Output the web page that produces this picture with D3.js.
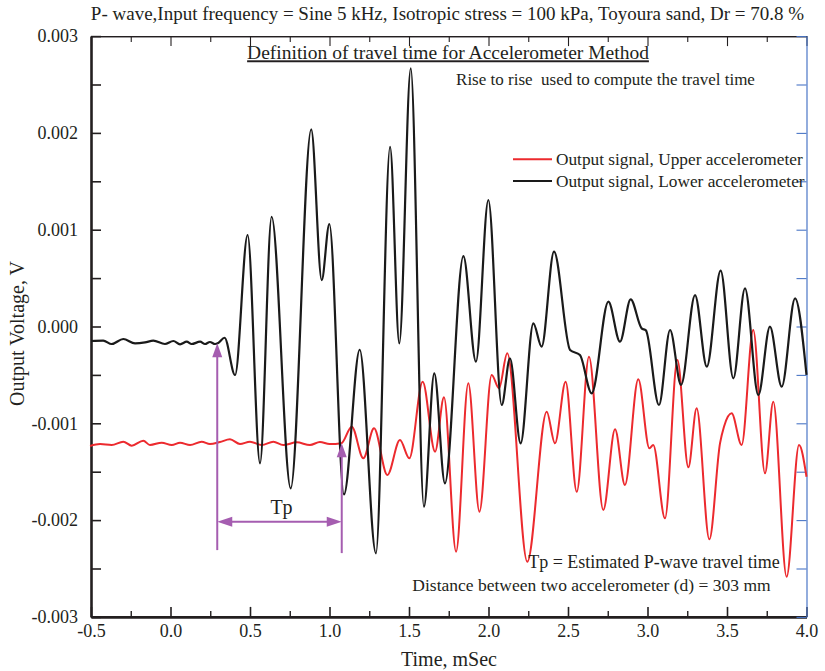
<!DOCTYPE html>
<html>
<head>
<meta charset="utf-8">
<script src="https://cdn.jsdelivr.net/npm/d3@7"></script>
<style>
  body { margin: 0; background: #fff; }
  text { font-family: "Liberation Serif", "Times New Roman", serif; fill: #231f20; }
</style>
</head>
<body>
<div id="chart"></div>
<script>
// axis ticks
const xMajor = [-0.5, 0.0, 0.5, 1.0, 1.5, 2.0, 2.5, 3.0, 3.5, 4.0];
const xMinor = [-0.25, 0.25, 0.75, 1.25, 1.75, 2.25, 2.75, 3.25, 3.75];
const yMajor = [0.003, 0.002, 0.001, 0.000, -0.001, -0.002, -0.003];
const yHalf = [0.0025, 0.0015, 0.0005, -0.0005, -0.0015, -0.0025];

// lower accelerometer (black) : [time mSec, volt V]
const lowerSignal = [
  [-0.500, -0.000150], [-0.423, -0.000146], [-0.370, -0.000181], [-0.297, -0.000129],
  [-0.223, -0.000174], [-0.160, -0.000164], [-0.108, -0.000146], [-0.035, -0.000181],
  [0.018, -0.000150], [0.060, -0.000184], [0.102, -0.000157], [0.133, -0.000181],
  [0.186, -0.000157], [0.217, -0.000181], [0.248, -0.000160], [0.280, -0.000181],
  [0.300, -0.000170], [0.340, -0.000116], [0.406, -0.000501], [0.485, 0.000945],
  [0.563, -0.001413], [0.636, 0.001134], [0.756, -0.001672], [0.885, 0.002037],
  [0.951, 0.000480], [0.999, 0.001059], [1.091, -0.001735], [1.190, -0.000240],
  [1.292, -0.002343], [1.381, 0.001857], [1.439, -0.000174], [1.511, 0.002667],
  [1.594, -0.001861], [1.659, -0.000484], [1.726, -0.001620], [1.842, 0.000728],
  [1.921, -0.000363], [1.999, 0.001307], [2.083, -0.000811], [2.135, -0.000329],
  [2.202, -0.001207], [2.282, 0.000033], [2.334, -0.000208], [2.412, 0.000773],
  [2.513, -0.000243], [2.575, -0.000294], [2.649, -0.000690], [2.754, 0.000256],
  [2.827, -0.000157], [2.894, 0.000281], [2.963, -0.000019], [2.990, -0.000040],
  [3.072, -0.000811], [3.142, -0.000036], [3.211, -0.000604], [3.299, 0.000325],
  [3.373, -0.000415], [3.460, 0.000577], [3.540, -0.000535], [3.613, 0.000394],
  [3.697, -0.000708], [3.770, -0.000002], [3.844, -0.000622], [3.928, 0.000291],
  [4.000, -0.000500]
];

// upper accelerometer (red)
const upperSignal = [
  [-0.506, -0.001234], [-0.443, -0.001214], [-0.370, -0.001224], [-0.297, -0.001190],
  [-0.244, -0.001231], [-0.171, -0.001180], [-0.129, -0.001224], [-0.055, -0.001200],
  [0.008, -0.001224], [0.060, -0.001200], [0.123, -0.001224], [0.196, -0.001190],
  [0.248, -0.001214], [0.311, -0.001193], [0.374, -0.001166], [0.437, -0.001214],
  [0.500, -0.001190], [0.574, -0.001224], [0.647, -0.001190], [0.709, -0.001224],
  [0.794, -0.001197], [0.877, -0.001224], [0.940, -0.001193], [1.000, -0.001215],
  [1.075, -0.001205], [1.140, -0.001035], [1.213, -0.001362], [1.280, -0.001052],
  [1.364, -0.001534], [1.443, -0.001173], [1.502, -0.001362], [1.586, -0.000570],
  [1.664, -0.001293], [1.720, -0.000732], [1.796, -0.002326], [1.873, -0.000587],
  [1.943, -0.001913], [2.020, -0.000501], [2.066, -0.000638], [2.118, -0.000277],
  [2.244, -0.002430], [2.366, -0.000880], [2.418, -0.001207], [2.485, -0.000570],
  [2.555, -0.001707], [2.632, -0.000312], [2.722, -0.001896], [2.796, -0.001062],
  [2.858, -0.001637], [2.942, -0.000546], [3.012, -0.001259], [3.036, -0.001224],
  [3.110, -0.001982], [3.188, -0.000346], [3.257, -0.001455], [3.309, -0.000845],
  [3.389, -0.002199], [3.456, -0.001207], [3.481, -0.001035], [3.529, -0.000897],
  [3.592, -0.001224], [3.665, -0.000036], [3.739, -0.001517], [3.791, -0.000777],
  [3.875, -0.002585], [3.953, -0.001224], [4.000, -0.001552]
];

// Tp annotation (time, volt)
const tpTimes = [0.294, 1.077];
const tpArrowTops = [-0.000174, -0.001207];
const tpBottom = -0.00231;
const tpLevel = -0.002017;

const W = 825, H = 671;
const svg = d3.select("#chart").append("svg")
  .attr("width", W).attr("height", H);

const x = d3.scaleLinear().domain([-0.5, 4.0]).range([91, 806.5]);
const y = d3.scaleLinear().domain([-0.003, 0.003]).range([616.9, 36.1]);

// axes ---------------------------------------------------------
const bottomMinor = svg.append("g")
  .attr("transform", `translate(0,${y(-0.003)})`)
  .call(d3.axisBottom(x).tickValues(xMinor).tickSize(-6).tickSizeOuter(0).tickFormat(""));
const bottom = svg.append("g")
  .attr("transform", `translate(0,${y(-0.003)})`)
  .call(d3.axisBottom(x).tickValues(xMajor).tickSize(-10).tickSizeOuter(0).tickPadding(7)
    .tickFormat(d => d.toFixed(1)));

const topMinor = svg.append("g")
  .attr("transform", `translate(0,${y(0.003)})`)
  .call(d3.axisTop(x).tickValues(xMinor).tickSize(-6).tickSizeOuter(0).tickFormat(""));
const topAx = svg.append("g")
  .attr("transform", `translate(0,${y(0.003)})`)
  .call(d3.axisTop(x).tickValues(xMajor).tickSize(-10).tickSizeOuter(0).tickFormat(""));

const left = svg.append("g")
  .attr("transform", `translate(${x(-0.5)},0)`)
  .call(d3.axisLeft(y).tickValues(yMajor.concat(yHalf)).tickSize(-10).tickSizeOuter(0).tickPadding(13)
    .tickFormat(d => yMajor.includes(d) ? d.toFixed(3) : ""));

const right = svg.append("g")
  .attr("transform", `translate(${x(4.0)},0)`)
  .call(d3.axisRight(y).tickValues(yMajor.concat(yHalf)).tickSize(-10).tickSizeOuter(0).tickFormat(""));

[bottom, left].forEach(g => {
  g.select(".domain").attr("stroke", "#231f20").attr("stroke-width", 2.6);
  g.selectAll(".tick line").attr("stroke", "#231f20").attr("stroke-width", 1.6);
  g.selectAll(".tick text").attr("font-size", 18).attr("font-family", "Liberation Serif").attr("fill", "#231f20");
});
bottomMinor.selectAll(".tick line").attr("stroke", "#231f20").attr("stroke-width", 1.4);
bottomMinor.select(".domain").remove();
[topAx, topMinor].forEach(g => {
  g.select(".domain").attr("stroke", "#231f20").attr("stroke-width", 1.3);
  g.selectAll(".tick line").attr("stroke", "#231f20").attr("stroke-width", 1.1);
});
right.select(".domain").attr("stroke", "#4a76c6").attr("stroke-width", 1.2);
right.selectAll(".tick line").attr("stroke", "#4a76c6").attr("stroke-width", 1.1);

// signals -------------------------------------------------------
const line = d3.line()
  .x(d => x(d[0]))
  .y(d => y(d[1]))
  .curve(d3.curveMonotoneX);

svg.append("path").datum(upperSignal)
  .attr("d", line).attr("fill", "none")
  .attr("stroke", "#ec2a2e").attr("stroke-width", 2);

svg.append("path").datum(lowerSignal)
  .attr("d", line).attr("fill", "none")
  .attr("stroke", "#1a1a1a").attr("stroke-width", 2.2);

// Tp annotation -------------------------------------------------
const purple = "#a55db0";
const ann = svg.append("g");
tpTimes.forEach((t, i) => {
  const px = x(t), top = y(tpArrowTops[i]);
  ann.append("line")
    .attr("x1", px).attr("x2", px)
    .attr("y1", y(tpBottom) + (i ? 3 : 0)).attr("y2", top + 10)
    .attr("stroke", purple).attr("stroke-width", 2);
  ann.append("path")
    .attr("d", `M${px},${top} L${px - 5},${top + 14} L${px + 5},${top + 14} Z`)
    .attr("fill", purple);
});
const hy = y(tpLevel), hx0 = x(tpTimes[0]), hx1 = x(tpTimes[1]);
ann.append("line")
  .attr("x1", hx0 + 8).attr("x2", hx1 - 8).attr("y1", hy).attr("y2", hy)
  .attr("stroke", purple).attr("stroke-width", 2);
ann.append("path")
  .attr("d", `M${hx0},${hy} L${hx0 + 15},${hy - 5} L${hx0 + 15},${hy + 5} Z`).attr("fill", purple);
ann.append("path")
  .attr("d", `M${hx1},${hy} L${hx1 - 15},${hy - 5} L${hx1 - 15},${hy + 5} Z`).attr("fill", purple);
ann.append("text")
  .attr("x", (hx0 + hx1) / 2 + 2).attr("y", hy - 8)
  .attr("text-anchor", "middle").attr("font-size", 20)
  .text("Tp");

// legend --------------------------------------------------------
const legend = [
  { label: "Output signal, Upper accelerometer", color: "#ec2a2e", y: 159.3 },
  { label: "Output signal, Lower accelerometer", color: "#1a1a1a", y: 181 }
];
legend.forEach(d => {
  svg.append("line").attr("x1", 513).attr("x2", 552).attr("y1", d.y).attr("y2", d.y)
    .attr("stroke", d.color).attr("stroke-width", 2);
  svg.append("text").attr("x", 556).attr("y", d.y + 5.5).attr("font-size", 17.3).text(d.label);
});

// texts ---------------------------------------------------------
svg.append("text").attr("x", 447.5).attr("y", 20).attr("text-anchor", "middle")
  .attr("font-size", 19)
  .text("P- wave,Input frequency = Sine 5 kHz, Isotropic stress = 100 kPa, Toyoura sand, Dr = 70.8 %");

svg.append("text").attr("x", 448).attr("y", 59.3).attr("text-anchor", "middle")
  .attr("font-size", 19.5).attr("text-decoration", "underline")
  .text("Definition of travel time for Accelerometer Method");

svg.append("text").attr("x", 605.5).attr("y", 84.5).attr("text-anchor", "middle")
  .attr("font-size", 17).style("white-space", "pre")
  .text("Rise to rise  used to compute the travel time");

svg.append("text").attr("x", 654).attr("y", 567.5).attr("text-anchor", "middle")
  .attr("font-size", 18).text("Tp = Estimated P-wave travel time");

svg.append("text").attr("x", 591.5).attr("y", 590.5).attr("text-anchor", "middle")
  .attr("font-size", 17.5).text("Distance between two accelerometer (d) = 303 mm");

svg.append("text").attr("x", 449).attr("y", 666).attr("text-anchor", "middle")
  .attr("font-size", 20).text("Time, mSec");

svg.append("text")
  .attr("transform", `translate(24,${y(0) + 7}) rotate(-90)`)
  .attr("text-anchor", "middle").attr("font-size", 20)
  .text("Output Voltage, V");
</script>
</body>
</html>
